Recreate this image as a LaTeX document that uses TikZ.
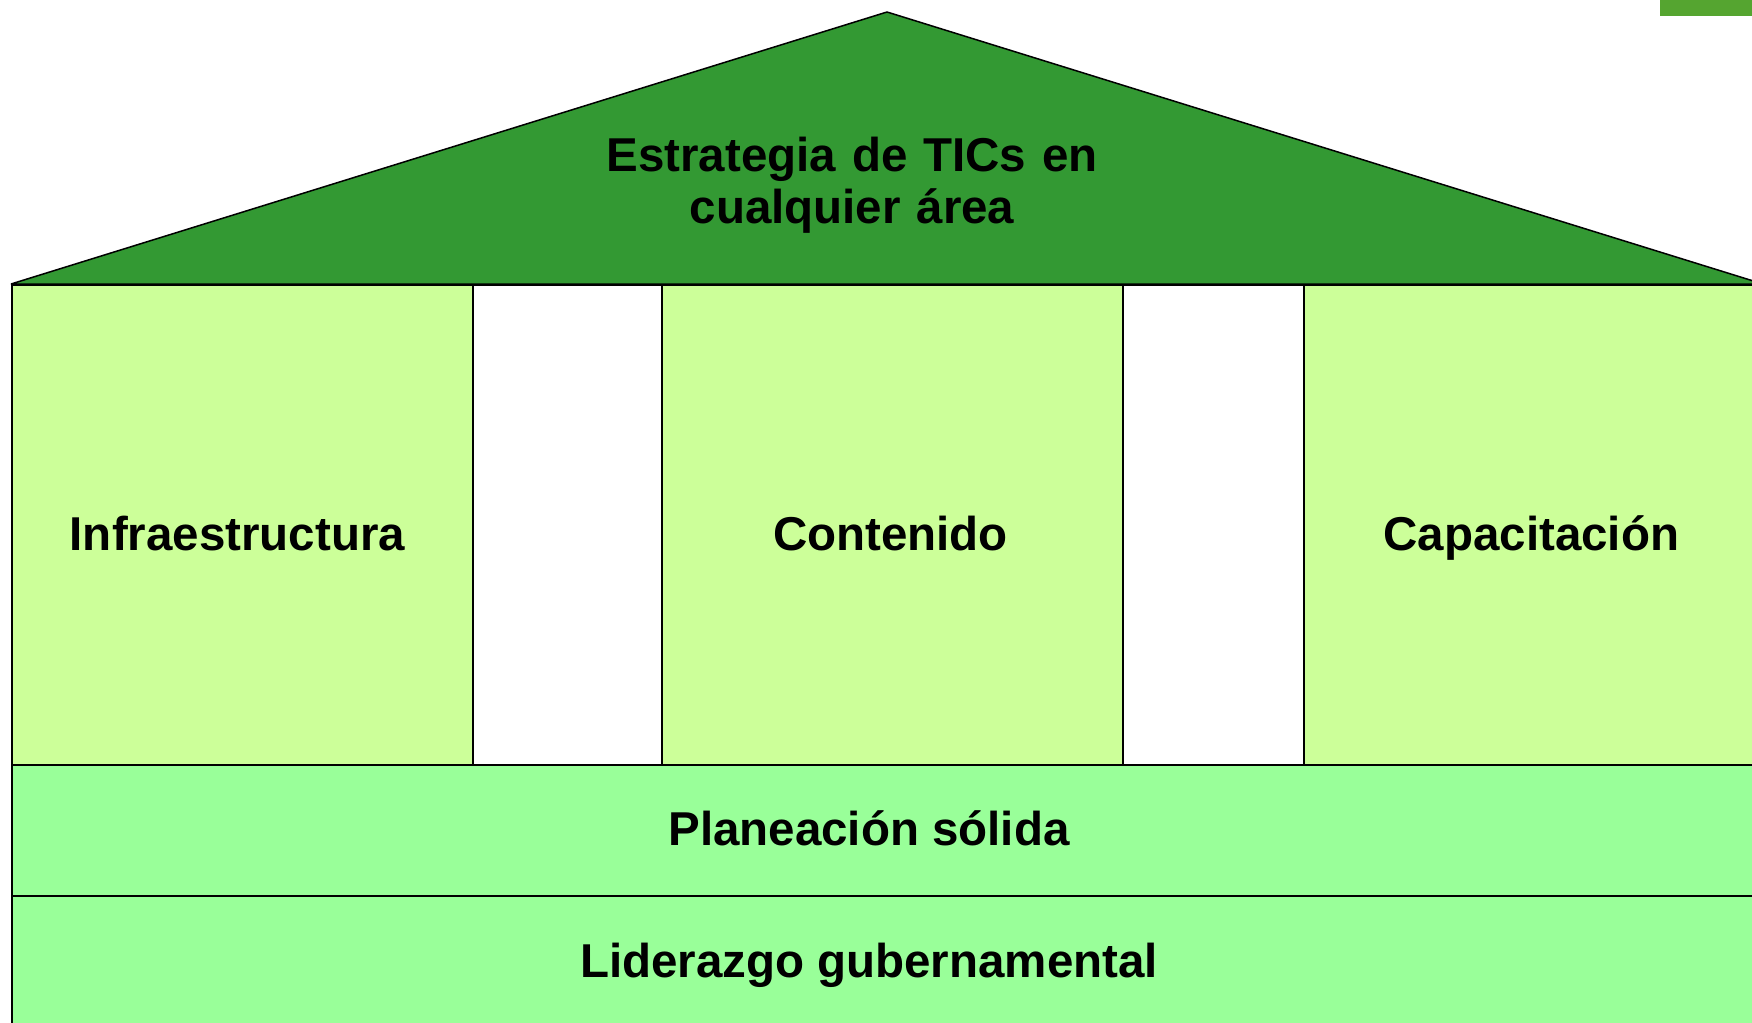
\documentclass[tikz,border=0pt]{standalone}
\usepackage{fontspec}
\setmainfont{Liberation Sans}
\definecolor{roofgreen}{RGB}{51,153,51}
\definecolor{pillargreen}{RGB}{204,255,153}
\definecolor{bandgreen}{RGB}{153,255,153}
\definecolor{tabgreen}{RGB}{85,165,48}
\begin{document}
\begin{tikzpicture}[x=1pt,y=-1pt,
  lbl/.style={font=\fontsize{47.5}{51.6}\selectfont\bfseries, inner sep=0pt, anchor=base, text=black},
  box/.style={draw=black, line width=1.8pt, inner sep=0pt, anchor=north west, minimum height=480pt},
  pillarbox/.style={box, fill=pillargreen, minimum width=461pt},
  gapbox/.style={box, fill=white},
  bandbox/.style={draw=black, line width=2pt, inner sep=0pt, anchor=north west, fill=bandgreen, minimum width=1752pt, minimum height=131pt}]
\useasboundingbox (0,0) rectangle (1752,1022);
\clip (0,0) rectangle (1752,1022);
% small tab top right
\fill[tabgreen] (1660,0) rectangle (1752,16.5);
% pillars and gaps
\node[pillarbox] (infra) at (11,284) {};
\node[gapbox, minimum width=189pt] (gap1) at (472,284) {};
\node[pillarbox] (cont) at (661,284) {};
\node[gapbox, minimum width=181pt] (gap2) at (1122,284) {};
\node[pillarbox] (cap) at (1303,284) {};
% bands
\node[bandbox] (plan) at (11,764) {};
\node[bandbox] (lid) at (11,895) {};
% roof
\coordinate (roofL) at (11,284);
\coordinate (apex) at (887,12);
\coordinate (roofR) at (1763,284);
\draw[fill=roofgreen, line width=1.5pt, line join=bevel] (roofL) -- (apex) -- (roofR) -- cycle;
% texts
\node[lbl, text width=700pt, align=center] (troof) at (852,171.7) {Estrategia de TICs en\\cualquier área};
\node[lbl] (tinfra) at ([xshift=-5pt,yshift=-26pt]infra.center) {Infraestructura};
\node[lbl] (tcont) at ([xshift=-2pt,yshift=-26pt]cont.center) {Contenido};
\node[lbl] (tcap) at ([xshift=-3pt,yshift=-26pt]cap.center) {Capacitación};
\node[lbl] (tplan) at (869,845) {Planeación sólida};
\node[lbl] (tlid) at (869,977) {Liderazgo gubernamental};
\end{tikzpicture}
\end{document}
